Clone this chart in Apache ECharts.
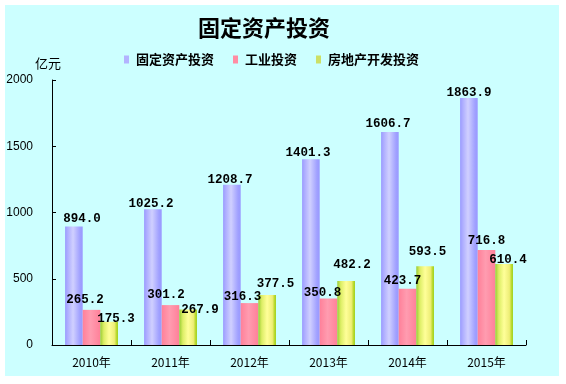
<!DOCTYPE html>
<html><head><meta charset="utf-8">
<script src="https://cdn.jsdelivr.net/npm/echarts@6/dist/echarts.min.js"></script>
<style>html,body{margin:0;padding:0;background:#fff}#c{width:566px;height:384px}</style>
</head><body><div id="c"></div>
<script>
const categories = ['2010年','2011年','2012年','2013年','2014年','2015年'];
const seriesNames = ['固定资产投资','工业投资','房地产开发投资'];
const fixedInvest = [894.0, 1025.2, 1208.7, 1401.3, 1606.7, 1863.9];
const industryInvest = [265.2, 301.2, 316.3, 350.8, 423.7, 716.8];
const realEstateInvest = [175.3, 267.9, 377.5, 482.2, 593.5, 610.4];
const yTicks = [0, 500, 1000, 1500, 2000];

// label offsets (style only): [dx, pixels above bar top of label centre]
const offBlue = [[8,7.5],[-2,5],[-2,5.5],[-3,6],[-2,7.8],[0,5.3]];
const offPink = [[-6.5,10],[-4.5,10],[-7,6.4],[-6,5.8],[-5,8],[0,9.3]];
const offYellow = [[7,2.8],[12,0],[8.4,10.7],[6,16],[2.4,14.7],[4,4]];

function grad(stops){
  return new echarts.graphic.LinearGradient(0,0,1,0, stops.map((c,i)=>({offset:c[0],color:c[1]})));
}
const colors = [
  grad([[0,'#9999ff'],[0.1,'#a8a8ff'],[0.45,'#d0d0ff'],[0.85,'#a0a0ff'],[1,'#9999ff']]),
  grad([[0,'#ff8099'],[0.45,'#ff9cb0'],[1,'#ff8099']]),
  grad([[0,'#99cc33'],[0.2,'#ddee66'],[0.5,'#ffff99'],[0.8,'#eeee77'],[1,'#99cc00']])
];
const legendColors = ['#b3b3ff','#ff8ca3','#cce066'];

function mk(vals, offs){
  return vals.map((v,i)=>({value:v, label:{offset:[offs[i][0], -(offs[i][1]-6.5)]}}));
}
const fmt = p => p.value.toFixed(1);

const labelStyle = {show:true, position:'top', distance:0, formatter:fmt,
  fontFamily:'Liberation Mono', fontWeight:'bold', fontSize:12.5, color:'#000', lineHeight:13};

const chart = echarts.init(document.getElementById('c'), null, {renderer:'canvas'});
chart.setOption({
  animation:false,
  backgroundColor:'#ffffff',
  graphic:[{type:'rect', z:-10, shape:{x:5,y:5,width:554,height:371}, style:{fill:'#ccffff'}, silent:true}],
  title:{text:'固定资产投资', left:193, top:12,
    textStyle:{fontFamily:'Noto Sans CJK SC', fontWeight:'bold', fontSize:22, color:'#000'}},
  legend:{left:119, top:48, itemWidth:5, itemHeight:8, itemGap:19,
    icon:'rect',
    textStyle:{fontFamily:'Noto Sans CJK SC', fontSize:13, fontWeight:'bold', color:'#000', padding:[0,0,0,2]},
    data:seriesNames.map((n,i)=>({name:n, itemStyle:{color:legendColors[i]}}))},
  grid:{left:52, top:80, width:474, height:265, containLabel:false},
  xAxis:{type:'category', data:categories,
    axisLine:{lineStyle:{color:'#000', width:1}},
    axisTick:{show:true, inside:true, length:5, lineStyle:{color:'#000'}},
    axisLabel:{margin:11, fontFamily:'Noto Sans CJK SC', fontSize:12, color:'#000'}},
  yAxis:{type:'value', min:yTicks[0], max:yTicks[yTicks.length-1], interval:500,
    name:'亿元', nameLocation:'end', nameGap:10,
    nameTextStyle:{fontFamily:'Noto Sans CJK SC', fontSize:13, color:'#000', align:'center', padding:[0,8,0,0]},
    axisLine:{show:true, lineStyle:{color:'#000', width:1}},
    axisTick:{show:true, inside:true, length:4, lineStyle:{color:'#000'}},
    splitLine:{show:false},
    axisLabel:{margin:19, fontFamily:'Liberation Sans', fontSize:12, color:'#000', formatter:v=>String(v)}},
  series:[
    {name:seriesNames[0], type:'bar', data:mk(fixedInvest, offBlue), barWidth:17.6, barGap:'0%',
      itemStyle:{color:colors[0]}, label:labelStyle},
    {name:seriesNames[1], type:'bar', data:mk(industryInvest, offPink), barWidth:17.6, barGap:'0%',
      itemStyle:{color:colors[1]}, label:labelStyle},
    {name:seriesNames[2], type:'bar', data:mk(realEstateInvest, offYellow), barWidth:17.6, barGap:'0%',
      itemStyle:{color:colors[2]}, label:labelStyle}
  ]
});
</script></body></html>
